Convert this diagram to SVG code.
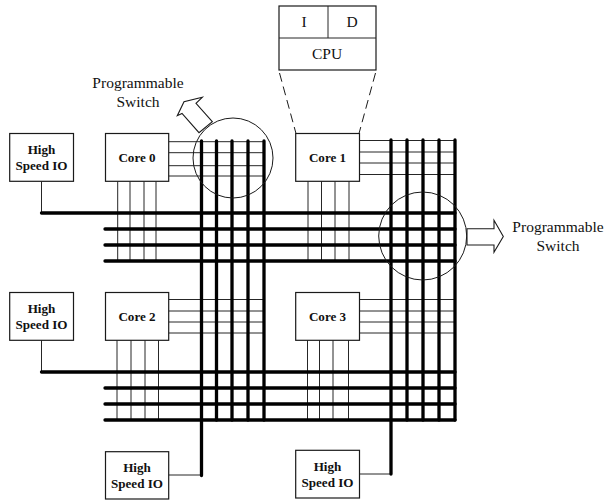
<svg xmlns="http://www.w3.org/2000/svg" width="605" height="501" viewBox="0 0 605 501">
<style>
.box{fill:#fff;stroke:#1a1a1a;stroke-width:1.2}
.thin{fill:none;stroke:#262626;stroke-width:1}
.thick{fill:none;stroke:#000;stroke-width:3.3;stroke-linecap:round}
.dash{fill:none;stroke:#1a1a1a;stroke-width:1;stroke-dasharray:9 5}
.arrow{fill:#fff;stroke:#1a1a1a;stroke-width:1.1}
.ring{fill:none;stroke:#1a1a1a;stroke-width:1}
text{font-family:"Liberation Serif","Times New Roman",serif;text-anchor:middle;fill:#111}
.b{font-weight:bold;font-size:13.1px}
.r{font-size:15.5px}
</style>
<g id="connectors">
<path class="thin" d="M168.700 141.700H264M168.700 152.700H264M168.700 165.700H264M168.700 176H264"/>
<path class="thin" d="M117.700 181.300V261M130 181.300V261M144 181.300V261M156 181.300V261"/>
<path class="thin" d="M359.500 140.500H455M359.500 152H455M359.500 163H455M359.500 174.500H455"/>
<path class="thin" d="M308 181V261M321.500 181V261M335 181V261M349 181V261"/>
<path class="thin" d="M168.700 299.500H264M168.700 311H264M168.700 322H264M168.700 333H264"/>
<path class="thin" d="M117 340V420M131 340V420M145 340V420M158.500 340V420"/>
<path class="thin" d="M359.500 299.500H455M359.500 311H455M359.500 322H455M359.500 333H455"/>
<path class="thin" d="M307.500 340V420M319.500 340V420M333 340V420M348.500 340V420"/>
<path class="thin" d="M41.500 181.300V213M41.500 340V372M168.700 475H201.500M359.500 474H391"/>
<path class="thick" d="M41.500 213H455M105 229H455M105 245H455M105 261H455"/>
<path class="thick" d="M41.500 372H455M105 388H455M105 404H455M105 420H455"/>
<path class="thick" d="M201.500 141V475.500M216.500 141V420M232 141V420M248 141V420M264 141V420"/>
<path class="thick" d="M391 140V474M407 140V420M423 140V420M439 140V420M455 140V420"/>
<path class="dash" d="M279.500 73L296 133.500M375.500 73L359 133.500"/>
</g>
<g id="switch-0">
<circle class="ring" cx="233" cy="158" r="40"/>
<path class="arrow" d="M212.300 121.700L196 103.300L202.300 97.300L184 101.700L177.300 115.700L182 113.500L199 132.700Z"/>
<text class="r" x="138" y="88">Programmable</text>
<text class="r" x="138" y="107">Switch</text>
</g>
<g id="switch-1">
<circle class="ring" cx="422.700" cy="236" r="44"/>
<path class="arrow" d="M467 228.700H494V220.300L503.300 236.500L494 252.300V245H467Z"/>
<text class="r" x="558" y="232">Programmable</text>
<text class="r" x="558" y="251">Switch</text>
</g>
<g id="cpu-detail">
<rect class="box" x="279" y="6" width="97" height="64"/>
<path class="thin" d="M279 38H376M328 6V38"/>
<text class="r" x="304" y="27">I</text>
<text class="r" x="352" y="27">D</text>
<text class="r" x="327" y="59">CPU</text>
</g>
<g id="io-0"><rect class="box" x="9.700" y="133.500" width="63.800" height="47.800"/><text class="b" x="41.500" y="154">High</text><text class="b" x="41.500" y="170">Speed IO</text></g>
<g id="core-0"><rect class="box" x="105.500" y="133.500" width="63.200" height="47.800"/><text class="b" x="137" y="162">Core 0</text></g>
<g id="core-1"><rect class="box" x="295.700" y="133.500" width="63.800" height="47.800"/><text class="b" x="327.500" y="162">Core 1</text></g>
<g id="io-1"><rect class="box" x="9.700" y="292.500" width="63.800" height="47.800"/><text class="b" x="41.500" y="313">High</text><text class="b" x="41.500" y="329">Speed IO</text></g>
<g id="core-2"><rect class="box" x="105.500" y="292.500" width="63.200" height="47.800"/><text class="b" x="137" y="321">Core 2</text></g>
<g id="core-3"><rect class="box" x="295.700" y="292.500" width="63.800" height="47.800"/><text class="b" x="327.500" y="321">Core 3</text></g>
<g id="io-2"><rect class="box" x="105.500" y="451.700" width="63.200" height="47.300"/><text class="b" x="137" y="472">High</text><text class="b" x="137" y="488">Speed IO</text></g>
<g id="io-3"><rect class="box" x="295.700" y="450.300" width="63.800" height="47.700"/><text class="b" x="327.500" y="471">High</text><text class="b" x="327.500" y="487">Speed IO</text></g>
</svg>
